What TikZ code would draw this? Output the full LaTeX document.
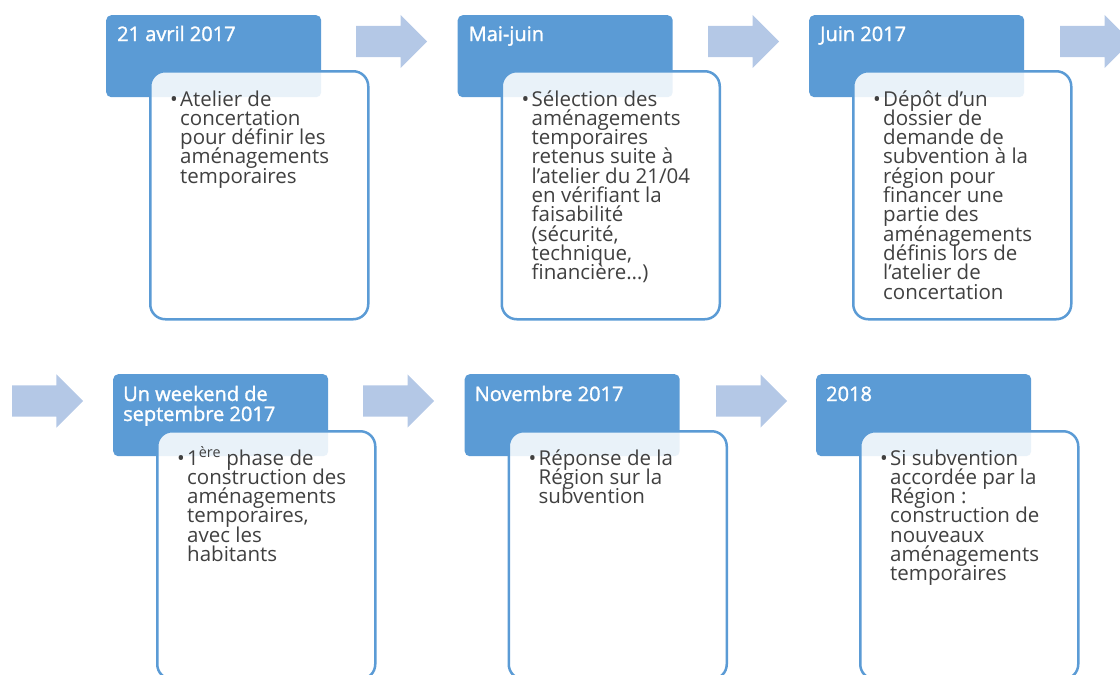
\documentclass[tikz,border=0pt]{standalone}
\usepackage{fontspec}
\setmainfont{Open Sans}
\newfontfamily\datefont{Open Sans}[FakeBold=1.5]
\usepackage{tikz}
\usetikzlibrary{shapes.arrows}
\definecolor{bleu}{HTML}{5B9BD5}
\definecolor{bleuclair}{HTML}{B4C8E6}
\definecolor{gristexte}{HTML}{404040}
\newcommand{\lignes}[1]{\vtop{\hsize=300pt\parindent=0pt\lineskiplimit=-50pt\raggedright\leavevmode#1\par}}
\newcommand{\puce}[1]{\makebox[10pt][l]{\textbullet}\lignes{#1}}
\tikzset{
x=1pt, y=-1pt, % coordinates in pixels, y going down
date/.style={rectangle, rounded corners=5pt, fill=bleu, anchor=north west,
  minimum width=215pt, minimum height=82pt, inner sep=0pt}, % blue box with the date
contenu/.style={rectangle, rounded corners=15pt, draw=bleu, line width=2.5pt,
  fill=white, fill opacity=0.87, anchor=north west,
  minimum width=218pt, minimum height=248pt, inner sep=0pt}, % white box with the text
fleche/.style={single arrow, fill=bleuclair, minimum height=71pt, inner xsep=0pt,
  inner ysep=15.5pt, single arrow head extend=11pt, single arrow head indent=0pt,
  anchor=tail}, % light arrow, placed by its tail
titre/.style={anchor=base west, inner sep=0pt, text=white,
  font=\datefont\fontsize{20}{20}\selectfont}, % date text
texte/.style={anchor=base west, inner sep=0pt, text=gristexte,
  font=\fontsize{20.5}{19.3}\selectfont}, % bullet text
}
\begin{document}
\begin{tikzpicture}
    \useasboundingbox (0,0) rectangle (1120,675);

    % first row
    \node[date] (d1) at (106,15) {};
    \node[date] (d2) at (457.5,15) {};
    \node[date] (d3) at (809,15) {};
    \node[fleche] (f1) at (356,41.5) {};
    \node[fleche] (f2) at (708,41.5) {};
    \node[fleche] (f3) at (1060,41.5) {};
    \node[contenu] (c1) at ([xshift=43pt,yshift=-55pt]d1.north west) {};
    \node[contenu] (c2) at ([xshift=43pt,yshift=-55pt]d2.north west) {};
    \node[contenu] (c3) at ([xshift=43pt,yshift=-55pt]d3.north west) {};

    % second row
    \node[date] (d4) at (113,374) {};
    \node[date] (d5) at (464.5,374) {};
    \node[date] (d6) at (816,374) {};
    \node[fleche] (f0) at (12,401) {};
    \node[fleche] (f4) at (363,401) {};
    \node[fleche] (f5) at (716,401) {};
    \node[contenu] (c4) at ([xshift=43pt,yshift=-56pt]d4.north west) {};
    \node[contenu] (c5) at ([xshift=43pt,yshift=-56pt]d5.north west) {};
    \node[contenu] (c6) at ([xshift=43pt,yshift=-56pt]d6.north west) {};

    % dates
    \node[titre] (t1) at ([xshift=11pt,yshift=-26pt]d1.north west) {\lignes{21 avril 2017}};
    \node[titre] (t2) at ([xshift=11pt,yshift=-26pt]d2.north west) {\lignes{Mai-juin}};
    \node[titre] (t3) at ([xshift=11pt,yshift=-26pt]d3.north west) {\lignes{Juin 2017}};
    \node[titre] (t4) at ([xshift=10pt,yshift=-27pt]d4.north west) {\lignes{Un weekend de\\septembre 2017}};
    \node[titre] (t5) at ([xshift=10pt,yshift=-27pt]d5.north west) {\lignes{Novembre 2017}};
    \node[titre] (t6) at ([xshift=10pt,yshift=-27pt]d6.north west) {\lignes{2018}};

    % bullets
    \node[texte] (b1) at ([xshift=21pt,yshift=-36pt]c1.north west)
        {\puce{Atelier de\\concertation\\pour définir les\\aménagements\\temporaires}};
    \node[texte] (b2) at ([xshift=21pt,yshift=-36pt]c2.north west)
        {\puce{Sélection des\\aménagements\\temporaires\\retenus suite à\\l’atelier du 21/04\\en vérifiant la\\faisabilité\\(sécurité,\\technique,\\financière…)}};
    \node[texte] (b3) at ([xshift=21pt,yshift=-36pt]c3.north west)
        {\puce{Dépôt d’un\\dossier de\\demande de\\subvention à la\\région pour\\financer une\\partie des\\aménagements\\définis lors de\\l’atelier de\\concertation}};
    \node[texte] (b4) at ([xshift=21pt,yshift=-35pt]c4.north west)
        {\puce{1\textsuperscript{ère} phase de\\construction des\\aménagements\\temporaires,\\avec les\\habitants}};
    \node[texte] (b5) at ([xshift=21pt,yshift=-35pt]c5.north west)
        {\puce{Réponse de la\\Région sur la\\subvention}};
    \node[texte] (b6) at ([xshift=21pt,yshift=-35pt]c6.north west)
        {\puce{Si subvention\\accordée par la\\Région :\\construction de\\nouveaux\\aménagements\\temporaires}};
\end{tikzpicture}
\end{document}
